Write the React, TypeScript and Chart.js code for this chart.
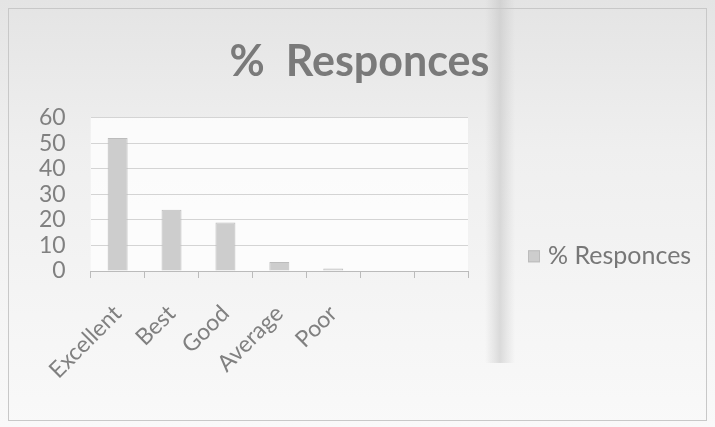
import React, { useEffect, useRef } from "react";
import { Chart, registerables } from "chart.js";

Chart.register(...registerables);

const categories = ["Excellent", "Best", "Good", "Average", "Poor", "", ""];
const responses = [52, 24, 19, 3.5, 1, 0, 0];
const seriesName = "% Responces";
const titleText = "%  Responces";
const yMin = 0;
const yMax = 60;
const yStep = 10;

const FONT = "Lato, 'Open Sans', sans-serif";

const bgPlugin = {
  id: "bgPlugin",
  beforeDraw(chart: any) {
    const { ctx, width, height, chartArea } = chart;
    ctx.save();
    const g = ctx.createLinearGradient(0, 0, 0, height);
    g.addColorStop(0, "#e4e4e4");
    g.addColorStop(0.35, "#efefef");
    g.addColorStop(1, "#f9f9f9");
    ctx.fillStyle = g;
    ctx.fillRect(0, 0, width, height);
    const b = ctx.createLinearGradient(485, 0, 515, 0);
    b.addColorStop(0, "rgba(200,200,200,0)");
    b.addColorStop(0.5, "rgba(195,195,195,0.55)");
    b.addColorStop(1, "rgba(200,200,200,0)");
    ctx.fillStyle = b;
    ctx.fillRect(485, 0, 30, height * 0.85);
    ctx.fillStyle = "rgba(255,255,255,0.75)";
    ctx.fillRect(chartArea.left, chartArea.top, chartArea.right - chartArea.left, chartArea.bottom - chartArea.top);
    ctx.strokeStyle = "#c8c8c8";
    ctx.lineWidth = 1;
    ctx.strokeRect(8.5, 8.5, width - 17, height - 15);
    ctx.restore();
  },
};

const sideLegend = {
  id: "sideLegend",
  afterDraw(chart: any) {
    const { ctx, chartArea } = chart;
    const ds = chart.data.datasets[0];
    const cy = (chartArea.top + chartArea.bottom) / 2 + 62;
    const x = chartArea.right + 60;
    ctx.save();
    ctx.fillStyle = ds.backgroundColor;
    ctx.strokeStyle = ds.borderColor;
    ctx.fillRect(x, cy - 6, 12, 12);
    ctx.strokeRect(x + 0.5, cy - 5.5, 11, 11);
    ctx.fillStyle = "#777";
    ctx.font = `25px ${FONT}`;
    ctx.textBaseline = "middle";
    ctx.textAlign = "left";
    ctx.fillText(ds.label, x + 20, cy);
    ctx.restore();
  },
};

export default function App() {
  const ref = useRef<HTMLCanvasElement>(null);
  useEffect(() => {
    const chart = new Chart(ref.current!, {
      type: "bar",
      data: {
        labels: categories,
        datasets: [
          {
            label: seriesName,
            data: responses,
            backgroundColor: "#cdcdcd",
            borderColor: "#bcbcbc",
            borderWidth: 1,
            barPercentage: 0.37,
            categoryPercentage: 1,
          },
        ],
      },
      options: {
        responsive: false,
        animation: false,
        layout: { padding: { left: 14, right: 10, top: 36, bottom: 4 } },
        plugins: {
          title: {
            display: true,
            text: titleText,
            color: "#7a7a7a",
            font: { family: FONT, size: 43, weight: "bold" },
            padding: { top: 0, bottom: 30 },
          },
          legend: { display: false },
          tooltip: { enabled: false },
        },
        scales: {
          x: {
            grid: { offset: true, drawOnChartArea: false, tickLength: 7, color: "#bbbbbb" },
            border: { color: "#bbbbbb" },
            ticks: {
              minRotation: 45,
              maxRotation: 45,
              color: "#808080",
              font: { family: FONT, size: 23 },
              padding: 22,
            },
            afterFit: (scale: any) => {
              scale.height = 152;
            },
          },
          y: {
            min: yMin,
            max: yMax,
            ticks: {
              stepSize: yStep,
              autoSkip: false,
              color: "#808080",
              font: { family: FONT, size: 23 },
              padding: 25,
            },
            grid: { color: "#d4d4d4", drawTicks: false },
            border: { display: false },
          },
          legendSpace: {
            type: "linear",
            position: "right",
            display: true,
            grid: { display: false },
            border: { display: false },
            ticks: { display: false },
            afterFit: (scale: any) => {
              scale.width = 237;
            },
          },
        },
      },
      plugins: [bgPlugin, sideLegend],
    });
    return () => chart.destroy();
  }, []);
  return (
    <div style={{ position: "fixed", left: 0, top: 0, width: 715, height: 427 }}>
      <canvas ref={ref} width={715} height={427} style={{ display: "block" }} />
    </div>
  );
}
